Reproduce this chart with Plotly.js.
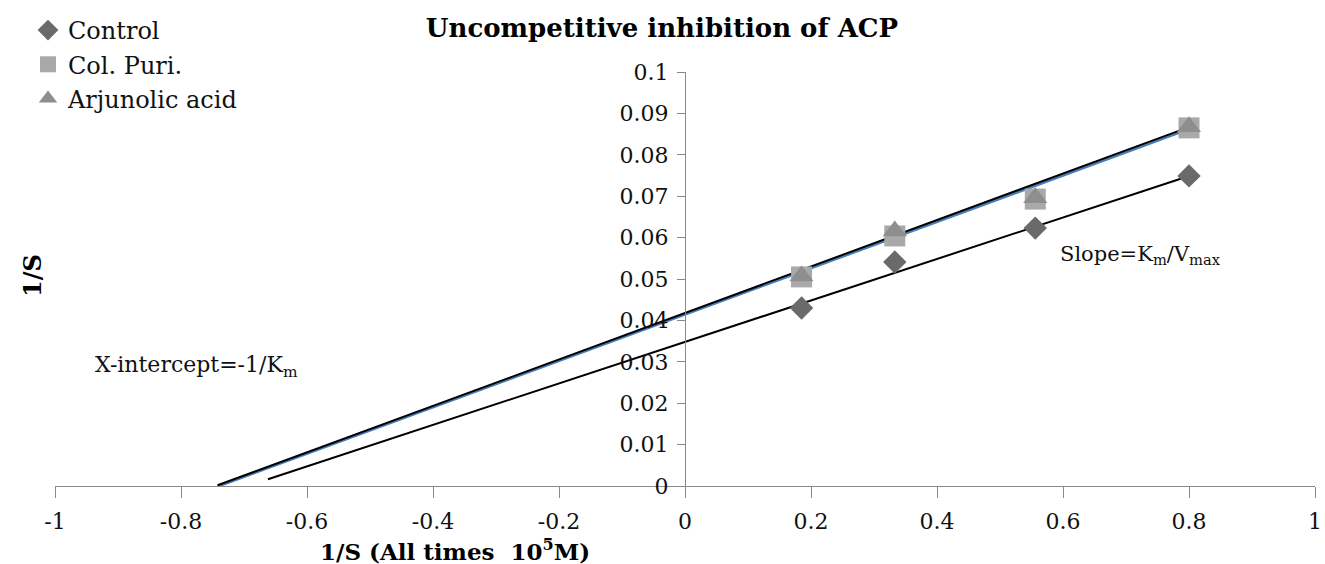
<!DOCTYPE html>
<html>
<head>
<meta charset="utf-8">
<script src="https://cdn.plot.ly/plotly-3.0.1.min.js"></script>
<style>html,body{margin:0;padding:0;background:#fff;}#chart{width:1325px;height:564px;}</style>
</head>
<body>
<div id="chart"></div>
<script>
// 1/S values (x) and 1/V values (y)
const invS = [0.185, 0.333, 0.556, 0.8];
const control = [0.0430, 0.0541, 0.0623, 0.0749];
const colPuri = [0.0505, 0.0604, 0.0693, 0.0865];
const arjunolic = [0.0507, 0.0616, 0.0696, 0.0868];
const seriesNames = ['Control', 'Col. Puri.', 'Arjunolic acid'];

// Linear trendlines as drawn (slope, intercept, backward-forecast start)
const trendSlope = [0.0501, 0.0560, 0.0561];
const trendIntercept = [0.0348, 0.0414, 0.0418];
const trendStart = [-0.662, -0.742, -0.742];

const xTickVals = [-1, -0.8, -0.6, -0.4, -0.2, 0, 0.2, 0.4, 0.6, 0.8, 1];
const xTickText = ['-1', '-0.8', '-0.6', '-0.4', '-0.2', '0', '0.2', '0.4', '0.6', '0.8', '1'];
const yTickVals = [0, 0.01, 0.02, 0.03, 0.04, 0.05, 0.06, 0.07, 0.08, 0.09, 0.1];
const yTickText = ['0', '0.01', '0.02', '0.03', '0.04', '0.05', '0.06', '0.07', '0.08', '0.09', '0.1'];

const serif = "'DejaVu Serif', serif";
const endX = Math.max(...invS);

// plot-area geometry helpers (pixels -> paper fractions)
const M = {l: 55, r: 10, t: 72, b: 78, autoexpand: false}, W = 1325, H = 564;
const px = v => (v - M.l) / (W - M.l - M.r);
const py = v => (H - M.b - v) / (H - M.t - M.b);

function trend(i, color, width) {
  const xs = [trendStart[i], endX];
  return {
    x: xs, y: xs.map(v => trendSlope[i] * v + trendIntercept[i]),
    mode: 'lines', line: {color: color, width: width},
    showlegend: false, hoverinfo: 'skip', cliponaxis: false
  };
}

const traces = [
  trend(0, '#000000', 2),
  trend(1, '#4a7ebb', 2.5),
  trend(2, '#000000', 2),
  {x: invS, y: control, name: seriesNames[0], mode: 'markers',
   marker: {symbol: 'diamond', size: 18, color: '#6a6a6a'}, cliponaxis: false},
  {x: invS, y: colPuri, name: seriesNames[1], mode: 'markers',
   marker: {symbol: 'square', size: 21, color: '#a9a9a9'}, cliponaxis: false},
  {x: invS, y: arjunolic, name: seriesNames[2], mode: 'markers',
   marker: {symbol: 'triangle-up', size: 21, color: '#8e8e8e'}, cliponaxis: false}
];

const layout = {
  width: W, height: H,
  margin: M,
  paper_bgcolor: '#ffffff', plot_bgcolor: '#ffffff',
  font: {family: serif, size: 20, color: '#111'},
  title: {text: '<b>Uncompetitive inhibition of ACP</b>', x: 662/W, xref: 'container',
          y: 1 - 28/H, yref: 'container', xanchor: 'center', yanchor: 'middle',
          font: {family: serif, size: 26, color: '#000'}},
  showlegend: true,
  legend: {x: 28/W, y: 1 - 8/H, xref: 'container', yref: 'container', xanchor: 'left', yanchor: 'top',
           font: {family: serif, size: 24, color: '#111'}, bgcolor: 'rgba(0,0,0,0)',
           traceorder: 'normal', itemwidth: 30, tracegroupgap: 0},
  xaxis: {range: [-1, 1], tickvals: xTickVals, ticktext: xTickText,
          showgrid: false, zeroline: false, showline: true, linecolor: '#8a8a8a', linewidth: 1,
          ticks: 'outside', ticklen: 11, tickcolor: '#8a8a8a', ticklabelstandoff: 5,
          ticklabeloverflow: 'allow', automargin: false,
          tickfont: {family: serif, size: 22, color: '#111'}, fixedrange: true},
  yaxis: {range: [0, 0.1], tickvals: yTickVals, ticktext: yTickText,
          anchor: 'free', position: 0.5, automargin: false,
          showgrid: false, zeroline: false, showline: true, linecolor: '#8a8a8a', linewidth: 1,
          ticks: 'outside', ticklen: 8, tickcolor: '#8a8a8a', ticklabelstandoff: 4,
          tickfont: {family: serif, size: 22, color: '#111'}, fixedrange: true},
  annotations: [
    {text: 'Slope=K<sub>m</sub>/V<sub>max</sub>', x: px(1058), y: py(255), xref: 'paper', yref: 'paper',
     xanchor: 'left', yanchor: 'middle', showarrow: false, font: {family: serif, size: 21, color: '#111'}},
    {text: 'X-intercept=-1/K<sub>m</sub>', x: px(93), y: py(366), xref: 'paper', yref: 'paper',
     xanchor: 'left', yanchor: 'middle', showarrow: false, font: {family: serif, size: 22, color: '#111'}},
    {text: '<b>1/S (All times  10<sup>5</sup>M)</b>', x: px(455), y: py(550), xref: 'paper', yref: 'paper',
     xanchor: 'center', yanchor: 'middle', showarrow: false, font: {family: serif, size: 23, color: '#000'}},
    {text: '<b>1/S</b>', x: px(32), y: py(276), xref: 'paper', yref: 'paper', textangle: -90,
     xanchor: 'center', yanchor: 'middle', showarrow: false, font: {family: serif, size: 24, color: '#000'}}
  ]
};

Plotly.newPlot('chart', traces, layout, {displayModeBar: false, staticPlot: true});
</script>
</body>
</html>
